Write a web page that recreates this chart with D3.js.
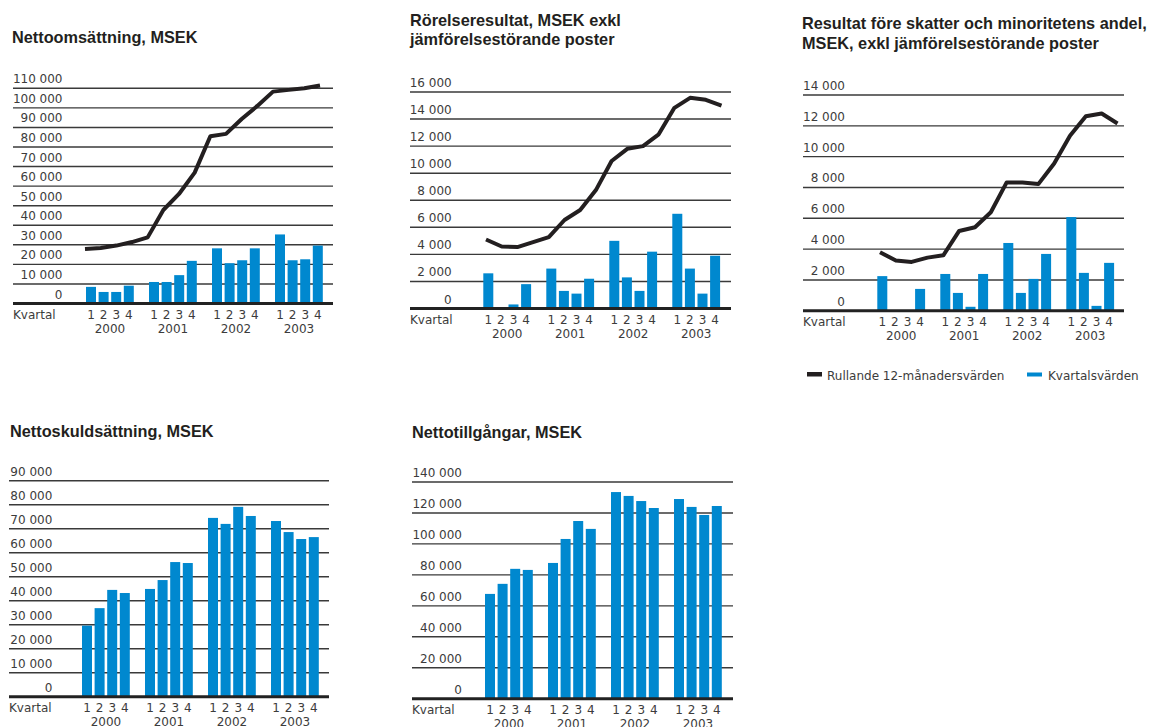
<!DOCTYPE html>
<html>
<head>
<meta charset="utf-8">
<script src="https://cdn.jsdelivr.net/npm/d3@7"></script>
<style>
  html, body { margin: 0; padding: 0; background: #fff; }
  svg { display: block; font-family: "Liberation Sans", Arial, sans-serif; }
  .small { font-family: "DejaVu Sans", sans-serif; font-size: 12px; }
</style>
</head>
<body>
<div id="chart"></div>
<script>
// Categories.
const years = ['2000', '2001', '2002', '2003'];
const quarters = ['1', '2', '3', '4'];

// Nettoomsättning, MSEK.
const revenueTicks = [0, 10000, 20000, 30000, 40000, 50000, 60000, 70000, 80000, 90000, 100000, 110000];
const revenueQuarterly = [8500, 5900, 5900, 9100, 11000, 11000, 14500, 21800, 28200, 20600, 22100, 28200, 35300, 22100, 22600, 29600];
const revenueRolling = [27900, 28400, 29600, 31400, 33800, 47800, 56000, 66900, 85500, 86700, 94300, 101000, 108300, 109200, 110000, 111400];

// Rörelseresultat, MSEK exkl jämförelsestörande poster.
const operatingTicks = [0, 2000, 4000, 6000, 8000, 10000, 12000, 14000, 16000];
const operatingQuarterly = [2600, 0, 300, 1800, 2950, 1300, 1100, 2200, 5000, 2300, 1300, 4200, 7000, 2950, 1100, 3900];
const operatingRolling = [5100, 4580, 4540, 4900, 5270, 6540, 7280, 8750, 10900, 11800, 12000, 12870, 14830, 15570, 15420, 15000];

// Resultat före skatter och minoritetens andel.
const pretaxTicks = [0, 2000, 4000, 6000, 8000, 10000, 12000, 14000];
const pretaxQuarterly = [2250, 0, 0, 1420, 2390, 1160, 260, 2390, 4400, 1160, 2070, 3690, 6080, 2460, 320, 3110];
const pretaxRolling = [3800, 3260, 3170, 3450, 3600, 5180, 5420, 6390, 8330, 8330, 8220, 9560, 11350, 12620, 12800, 12150];

// Nettoskuldsättning, MSEK.
const netDebtTicks = [0, 10000, 20000, 30000, 40000, 50000, 60000, 70000, 80000, 90000];
const netDebtQuarterly = [29600, 36900, 44500, 43200, 44900, 48600, 56100, 55700, 74500, 72000, 79100, 75300, 73200, 68600, 65700, 66500];

// Nettotillgångar, MSEK.
const netAssetsTicks = [0, 20000, 40000, 60000, 80000, 100000, 120000, 140000];
const netAssetsQuarterly = [67700, 74200, 83900, 83200, 87700, 103200, 114800, 109700, 133500, 131000, 127700, 123200, 129000, 123900, 118700, 124500];

const legendLabels = ['Rullande 12-månadersvärden', 'Kvartalsvärden'];
const axisLabel = 'Kvartal';

const colors = {
  bar: '#0088cf',
  line: '#231f20',
  grid: '#3a3a3a',
  text: '#3c3c3c',
  title: '#231f20'
};

const fmt = d3.formatLocale({ decimal: ',', thousands: ' ', grouping: [3], currency: ['', ' kr'] }).format(',d');

const svg = d3.select('#chart')
  .append('svg')
  .attr('width', 1154)
  .attr('height', 727);

function panel(attrs) {
  const g = svg.append('g');

  // Title.
  attrs.title.forEach((t, i) => {
    g.append('text')
      .attr('x', attrs.titleX)
      .attr('y', attrs.titleY[i])
      .attr('font-size', 16.3)
      .attr('font-weight', 'bold')
      .attr('fill', colors.title)
      .text(t);
  });

  const yScale = d3.scaleLinear()
    .domain([0, d3.max(attrs.ticks)])
    .range([attrs.y0, attrs.yTop]);

  // Group and quarter scales, 63px per year, 4 bars of 10px.
  const groupWidth = 47.8;
  const yearScale = d3.scaleBand()
    .domain(years)
    .range([attrs.barStart, attrs.barStart + 3 * 63 + groupWidth])
    .paddingInner(1 - groupWidth / 63)
    .paddingOuter(0);

  const quarterScale = d3.scaleBand()
    .domain(quarters)
    .range([0, yearScale.bandwidth()])
    .paddingInner(1 - 10 / 12.6)
    .paddingOuter(0);

  const cells = [];
  years.forEach((y, yi) => {
    quarters.forEach((q, qi) => {
      cells.push({ year: y, quarter: q, i: yi * 4 + qi });
    });
  });

  // Gridlines.
  g.selectAll('.grid')
    .data(attrs.ticks.filter(d => d !== 0))
    .enter()
    .append('line')
    .attr('class', 'grid')
    .attr('x1', attrs.gx0)
    .attr('x2', attrs.gx1)
    .attr('y1', d => yScale(d))
    .attr('y2', d => yScale(d))
    .attr('stroke', colors.grid)
    .attr('stroke-width', 1.4);

  // Tick labels.
  g.selectAll('.tick-label')
    .data(attrs.ticks)
    .enter()
    .append('text')
    .attr('class', 'tick-label small')
    .attr('x', attrs.labelRight)
    .attr('y', d => yScale(d) - 5)
    .attr('text-anchor', 'end')
    .attr('fill', colors.text)
    .text(d => fmt(d));

  // Bars.
  g.selectAll('.bar')
    .data(cells)
    .enter()
    .append('rect')
    .attr('class', 'bar')
    .attr('x', d => yearScale(d.year) + quarterScale(d.quarter))
    .attr('width', quarterScale.bandwidth())
    .attr('y', d => yScale(attrs.bars[d.i]))
    .attr('height', d => yScale(0) - yScale(attrs.bars[d.i]))
    .attr('fill', colors.bar);

  // Baseline.
  g.append('line')
    .attr('x1', attrs.gx0)
    .attr('x2', attrs.gx1)
    .attr('y1', yScale(0))
    .attr('y2', yScale(0))
    .attr('stroke', '#222')
    .attr('stroke-width', 3);

  // Rolling line.
  if (attrs.line) {
    const xLine = d3.scalePoint()
      .domain(cells.map(d => d.i))
      .range(attrs.lineRange);

    const line = d3.line()
      .x((d, i) => xLine(i))
      .y(d => yScale(d));

    g.append('path')
      .datum(attrs.line)
      .attr('d', line)
      .attr('fill', 'none')
      .attr('stroke', colors.line)
      .attr('stroke-width', 4)
      .attr('stroke-linejoin', 'round');
  }

  // Category labels.
  g.append('text')
    .attr('class', 'small')
    .attr('x', attrs.gx0)
    .attr('y', yScale(0) + 15)
    .attr('fill', colors.text)
    .text(axisLabel);

  g.selectAll('.q-label')
    .data(cells)
    .enter()
    .append('text')
    .attr('class', 'q-label small')
    .attr('x', d => yearScale(d.year) + quarterScale(d.quarter) + quarterScale.bandwidth() / 2)
    .attr('y', yScale(0) + 15)
    .attr('text-anchor', 'middle')
    .attr('fill', colors.text)
    .text(d => d.quarter);

  g.selectAll('.y-label')
    .data(years)
    .enter()
    .append('text')
    .attr('class', 'y-label small')
    .attr('x', d => yearScale(d) + yearScale.bandwidth() / 2)
    .attr('y', yScale(0) + 29)
    .attr('text-anchor', 'middle')
    .attr('fill', colors.text)
    .text(d => d);

  return g;
}

panel({
  title: ['Nettoomsättning, MSEK'], titleX: 12, titleY: [43],
  ticks: revenueTicks, bars: revenueQuarterly, line: revenueRolling,
  gx0: 13, gx1: 333, y0: 303.5, yTop: 88.3, labelRight: 62.5,
  barStart: 86, lineRange: [85, 320]
});

panel({
  title: ['Rörelseresultat, MSEK exkl', 'jämförelsestörande poster'], titleX: 410, titleY: [26, 45],
  ticks: operatingTicks, bars: operatingQuarterly, line: operatingRolling,
  gx0: 410, gx1: 731, y0: 308.5, yTop: 92, labelRight: 451.7,
  barStart: 483.3, lineRange: [486, 721.5]
});

const p3 = panel({
  title: ['Resultat före skatter och minoritetens andel,', 'MSEK, exkl jämförelsestörande poster'], titleX: 802, titleY: [29.3, 49.3],
  ticks: pretaxTicks, bars: pretaxQuarterly, line: pretaxRolling,
  gx0: 803, gx1: 1124, y0: 310.8, yTop: 95, labelRight: 845,
  barStart: 877.3, lineRange: [880, 1117.5]
});

panel({
  title: ['Nettoskuldsättning, MSEK'], titleX: 10, titleY: [436.7],
  ticks: netDebtTicks, bars: netDebtQuarterly, line: null,
  gx0: 9, gx1: 329, y0: 696.7, yTop: 480.7, labelRight: 52.3,
  barStart: 82
});

panel({
  title: ['Nettotillgångar, MSEK'], titleX: 412, titleY: [438],
  ticks: netAssetsTicks, bars: netAssetsQuarterly, line: null,
  gx0: 412, gx1: 733, y0: 698.7, yTop: 482, labelRight: 462,
  barStart: 485
});

// Legend.
const legend = p3.append('g').attr('transform', 'translate(807,380)');
legend.append('rect')
  .attr('x', 0).attr('y', -8).attr('width', 15).attr('height', 4.5)
  .attr('fill', colors.line);
legend.append('text')
  .attr('class', 'small')
  .attr('x', 20).attr('y', 0)
  .attr('fill', colors.text)
  .text(legendLabels[0]);
legend.append('rect')
  .attr('x', 220).attr('y', -7.5).attr('width', 15).attr('height', 4)
  .attr('fill', colors.bar);
legend.append('text')
  .attr('class', 'small')
  .attr('x', 241).attr('y', 0)
  .attr('fill', colors.text)
  .text(legendLabels[1]);
</script>
</body>
</html>
